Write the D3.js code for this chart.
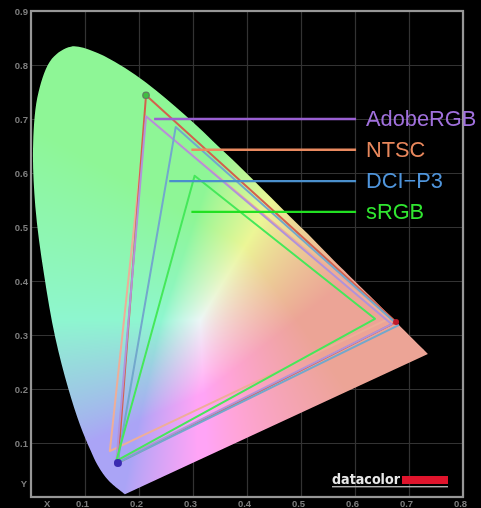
<!DOCTYPE html>
<html>
<head>
<meta charset="utf-8">
<script src="https://cdn.jsdelivr.net/npm/d3@7"></script>
<style>
  html, body { margin: 0; background: #000; overflow: hidden; }
  #chart { position: relative; width: 481px; height: 508px; filter: blur(0.55px); }
  #chart svg { position: absolute; left: 0; top: 0; }
</style>
</head>
<body>
<div id="chart"></div>
<script>
// spectrum locus
const locusX = [0.174, 0.144, 0.124, 0.110, 0.091, 0.069, 0.045, 0.024, 0.008, 0.004, 0.014, 0.039, 0.074, 0.114, 0.155, 0.193, 0.230, 0.266, 0.302, 0.337, 0.373, 0.409, 0.444, 0.479, 0.513, 0.545, 0.575, 0.627, 0.666, 0.692, 0.726, 0.735];
const locusY = [0.005, 0.030, 0.058, 0.087, 0.133, 0.201, 0.295, 0.413, 0.538, 0.655, 0.750, 0.812, 0.834, 0.826, 0.806, 0.782, 0.754, 0.724, 0.692, 0.659, 0.625, 0.590, 0.555, 0.520, 0.487, 0.454, 0.424, 0.373, 0.334, 0.308, 0.274, 0.265];

// gamut triangles, vertices in order red, green, blue
const measuredX = [0.676, 0.213, 0.161];
const measuredY = [0.324, 0.744, 0.063];
const adobeX = [0.668, 0.213, 0.158];
const adobeY = [0.320, 0.705, 0.065];
const ntscX = [0.662, 0.213, 0.146];
const ntscY = [0.330, 0.705, 0.085];
const p3X = [0.680, 0.268, 0.160];
const p3Y = [0.318, 0.685, 0.063];
const srgbX = [0.637, 0.303, 0.158];
const srgbY = [0.330, 0.595, 0.067];

// legend
const legendNames = ["AdobeRGB", "NTSC", "DCI\u2212P3", "sRGB"];
const legendY = [0.7, 0.643, 0.585, 0.528];
const legendStartX = [0.228, 0.297, 0.256, 0.297];
const legendEndX = 0.602;

const xTicks = [0.1, 0.2, 0.3, 0.4, 0.5, 0.6, 0.7, 0.8];
const yTicks = [0.1, 0.2, 0.3, 0.4, 0.5, 0.6, 0.7, 0.8, 0.9];

const width = 481, height = 508;
const x = d3.scaleLinear().domain([0, 0.8]).range([31, 463]);
const y = d3.scaleLinear().domain([0, 0.9]).range([497, 11]);

// colour field, painted to an offscreen canvas and clipped to the locus
function xyColor(cx, cy) {
  const X = cx / cy, Z = (1 - cx - cy) / cy;
  let r = 3.2406 * X - 1.5372 - 0.4986 * Z;
  let g = -0.9689 * X + 1.8758 + 0.0415 * Z;
  let b = 0.0557 * X - 0.2040 + 1.0570 * Z;
  r = Math.max(r, 0); g = Math.max(g, 0); b = Math.max(b, 0);
  const m = Math.max(r, g, b);
  const sat = v => {
    const t = Math.pow(v / m, 1 / 2.2);
    return Math.min(1, Math.max(0, (t - 0.42) / 0.58));
  };
  const sr = sat(r), sg = sat(g), sb = sat(b);
  return [
    142 + sr * 94 + 28 * sb * (1 - sg),
    164 + sg * 82,
    150 + sb * 96 * (1 - 0.4 * sg * (1 - sr))
  ];
}

const tmp = document.createElement("canvas");
tmp.width = width; tmp.height = height;
const tctx = tmp.getContext("2d");
const img = tctx.createImageData(width, height);
for (let py = 0; py < height; py++) {
  for (let px = 0; px < width; px++) {
    const cy = Math.max(y.invert(py), 0.001);
    const c = xyColor(x.invert(px), cy);
    const i = (py * width + px) * 4;
    img.data[i] = c[0]; img.data[i + 1] = c[1]; img.data[i + 2] = c[2]; img.data[i + 3] = 255;
  }
}
tctx.putImageData(img, 0, 0);

const locus = locusX.map((d, i) => [d, locusY[i]]);
const lineGen = d3.line().x(d => x(d[0])).y(d => y(d[1]));
const smooth = d3.line().x(d => x(d[0])).y(d => y(d[1])).curve(d3.curveCatmullRom);

const svg = d3.select("#chart").append("svg")
  .attr("width", width).attr("height", height)
  .style("font-family", "'Liberation Sans', sans-serif");

const gridColor = "#333333", frameColor = "#979797", labelColor = "#7e7e7e";

const gx = svg.append("g").attr("transform", `translate(0,${y(0)})`)
  .call(d3.axisBottom(x).tickValues(xTicks).tickFormat(d3.format(".1f")).tickSize(y(0.9) - y(0)).tickPadding(0));
const gy = svg.append("g").attr("transform", `translate(${x(0)},0)`)
  .call(d3.axisLeft(y).tickValues(yTicks).tickFormat(d3.format(".1f")).tickSize(x(0) - x(0.8)).tickPadding(3));
gx.selectAll(".domain").remove();
gy.selectAll(".domain").remove();
gx.selectAll("line").attr("stroke", gridColor).attr("stroke-width", 1.2);
gy.selectAll("line").attr("stroke", gridColor).attr("stroke-width", 1.2);
gx.selectAll("text").attr("y", 3).attr("dy", "0.71em").attr("dx", -3)
  .attr("fill", labelColor).attr("font-size", 9.5).attr("font-weight", "bold");
gy.selectAll("text").attr("x", -3).attr("fill", labelColor).attr("font-size", 9.5).attr("font-weight", "bold");
gx.attr("font-family", null);
gy.attr("font-family", null);

svg.append("text").attr("x", x(0.03)).attr("y", 507).attr("text-anchor", "middle")
  .attr("fill", labelColor).attr("font-size", 9.5).attr("font-weight", "bold").text("X");
svg.append("text").attr("x", 24).attr("y", y(0.025)).attr("text-anchor", "middle").attr("dy", "0.35em")
  .attr("fill", labelColor).attr("font-size", 9.5).attr("font-weight", "bold").text("Y");

const clip = svg.append("clipPath").attr("id", "locusClip");
clip.append("path").attr("d", smooth(locus) + "Z");
svg.append("image")
  .attr("href", tmp.toDataURL())
  .attr("width", width).attr("height", height)
  .attr("clip-path", "url(#locusClip)");

svg.append("rect")
  .attr("x", x(0)).attr("y", y(0.9))
  .attr("width", x(0.8) - x(0)).attr("height", y(0) - y(0.9))
  .attr("fill", "none").attr("stroke", frameColor).attr("stroke-width", 2.2);

// triangles
const triangles = [
  { xs: ntscX, ys: ntscY, color: "#eeae98" },
  { xs: measuredX, ys: measuredY, color: "#d4604c" },
  { xs: adobeX, ys: adobeY, color: "#b093da" },
  { xs: p3X, ys: p3Y, color: "#72a8cc" },
  { xs: srgbX, ys: srgbY, color: "#45e85a" }
];
svg.append("g").selectAll("path")
  .data(triangles)
  .join("path")
  .attr("d", d => lineGen(d.xs.map((v, i) => [v, d.ys[i]])) + "Z")
  .attr("fill", "none")
  .attr("stroke", d => d.color)
  .attr("stroke-width", 2)
  .attr("stroke-linejoin", "round");

// measured primaries
const dotColors = ["#c01828", "#3fc03f", "#3a2bb0"];
svg.append("g").selectAll("circle")
  .data(measuredX)
  .join("circle")
  .attr("cx", d => x(d))
  .attr("cy", (d, i) => y(measuredY[i]))
  .attr("r", (d, i) => i === 0 ? 3 : i === 1 ? 3.2 : 4)
  .attr("fill", (d, i) => dotColors[i])
  .attr("stroke", (d, i) => i === 1 ? "#5f7f60" : "none")
  .attr("stroke-width", 1.3);

// legend
const legendColors = ["#9a60d2", "#ea8a60", "#4a8fcc", "#22e022"];
const legendText = ["#a070dc", "#e8875c", "#4f95dc", "#30e630"];
svg.append("g").selectAll("line")
  .data(legendNames)
  .join("line")
  .attr("x1", (d, i) => x(legendStartX[i]))
  .attr("x2", x(legendEndX))
  .attr("y1", (d, i) => y(legendY[i]))
  .attr("y2", (d, i) => y(legendY[i]))
  .attr("stroke", (d, i) => legendColors[i])
  .attr("stroke-width", 2.4);
svg.append("g").selectAll("text")
  .data(legendNames)
  .join("text")
  .attr("x", 366)
  .attr("y", (d, i) => y(legendY[i]) + 7)
  .attr("fill", (d, i) => legendText[i])
  .attr("font-size", 21.8)
  .text(d => d);

// datacolor logo
svg.append("text").attr("x", 332).attr("y", 484)
  .attr("fill", "#e8e8e8").attr("font-size", 14).attr("font-weight", "bold")
  .attr("font-family", "'DejaVu Sans', sans-serif")
  .attr("textLength", 68).attr("lengthAdjust", "spacingAndGlyphs")
  .text("datacolor");
svg.append("rect").attr("x", 402).attr("y", 476).attr("width", 46).attr("height", 8).attr("fill", "#e0142c");
svg.append("rect").attr("x", 332).attr("y", 486).attr("width", 116).attr("height", 1.4).attr("fill", "#b0b0b0");
</script>
</body>
</html>
